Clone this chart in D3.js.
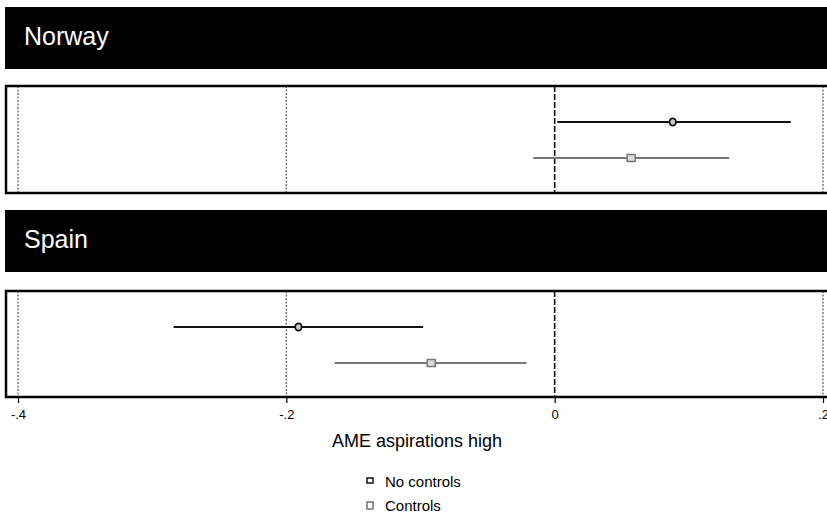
<!DOCTYPE html>
<html><head><meta charset="utf-8">
<script src="https://cdn.jsdelivr.net/npm/d3@7"></script>
<style>body{margin:0;background:#fff}svg{display:block}</style>
</head><body>
<script>
const countries = ["Norway", "Spain"];
const seriesNames = ["No controls", "Controls"];
// estimates and confidence intervals [country][series]
const estimates = [[0.088, 0.057], [-0.191, -0.092]];
const lower = [[0.002, -0.016], [-0.284, -0.164]];
const upper = [[0.176, 0.130], [-0.098, -0.021]];
const tickValues = [-0.4, -0.2, 0, 0.2];
const tickLabels = ["-.4", "-.2", "0", ".2"];
const xTitle = "AME aspirations high";

const W = 827, H = 515;
const svg = d3.select("body").append("svg").attr("width", W).attr("height", H);
const x = d3.scaleLinear().domain([-0.4, 0.2]).range([18, 823]);
const colors = ["#111", "#777"];

const panels = [
  {hTop: 7, hBot: 69, pTop: 86, pBot: 193},
  {hTop: 210, hBot: 272, pTop: 291, pBot: 397}
];

countries.forEach((c, i) => {
  const p = panels[i];
  const g = svg.append("g");
  g.append("rect").attr("x", 5).attr("y", p.hTop).attr("width", 840).attr("height", p.hBot - p.hTop).attr("fill", "#000");
  g.append("text").attr("x", 24).attr("y", p.hTop + 38).attr("fill", "#fff")
    .attr("font-family", "Liberation Sans, Arial, sans-serif").attr("font-size", 25).text(c);
  // grid lines
  tickValues.forEach(t => {
    g.append("line").attr("x1", x(t)).attr("x2", x(t)).attr("y1", p.pTop).attr("y2", p.pBot)
      .attr("stroke", t === 0 ? "#111" : "#666").attr("stroke-width", t === 0 ? 1.6 : 1.3)
      .attr("stroke-dasharray", t === 0 ? "6,2" : "2,1.5");
  });
  // frame
  g.append("rect").attr("x", 6).attr("y", p.pTop).attr("width", 840).attr("height", p.pBot - p.pTop)
    .attr("fill", "none").attr("stroke", "#000").attr("stroke-width", 2.5);
  const yPos = d3.scalePoint().domain(seriesNames).range([p.pTop + 36, p.pTop + 72]);
  seriesNames.forEach((s, j) => {
    const yy = yPos(s);
    g.append("line").attr("x1", x(lower[i][j])).attr("x2", x(upper[i][j])).attr("y1", yy).attr("y2", yy)
      .attr("stroke", colors[j]).attr("stroke-width", j === 0 ? 2 : 1.8);
    if (j === 0) {
      g.append("ellipse").attr("cx", x(estimates[i][j])).attr("cy", yy).attr("rx", 3.2).attr("ry", 3.6)
        .attr("fill", "#ccc").attr("stroke", "#111").attr("stroke-width", 1.8);
    } else {
      g.append("rect").attr("x", x(estimates[i][j]) - 4).attr("y", yy - 3.5).attr("width", 8).attr("height", 7)
        .attr("fill", "#ddd").attr("stroke", "#777").attr("stroke-width", 1.5);
    }
  });
});

// x axis
const axisG = svg.append("g").attr("transform", `translate(0,${panels[1].pBot})`)
  .call(d3.axisBottom(x).tickValues(tickValues).tickFormat((d, i) => tickLabels[i]).tickSize(6).tickPadding(7));
axisG.select(".domain").remove();
axisG.selectAll(".tick line").attr("stroke", "#000").attr("stroke-width", 1.2);
axisG.selectAll(".tick text").attr("font-family", "Liberation Sans, Arial, sans-serif").attr("font-size", 13).attr("fill", "#000");

svg.append("text").attr("x", 417).attr("y", 447).attr("text-anchor", "middle")
  .attr("font-family", "Liberation Sans, Arial, sans-serif").attr("font-size", 18).text(xTitle);

// legend
const legendY = d3.scalePoint().domain(seriesNames).range([481, 505]);
seriesNames.forEach((s, j) => {
  const yy = legendY(s);
  svg.append("rect").attr("x", 367).attr("y", yy - 3).attr("width", 6).attr("height", j === 0 ? 5 : 7)
    .attr("fill", "#fff").attr("stroke", colors[j]).attr("stroke-width", 1.5);
  svg.append("text").attr("x", 385).attr("y", yy + 6).attr("font-family", "Liberation Sans, Arial, sans-serif")
    .attr("font-size", 15).attr("fill", "#000").text(s);
});
</script>
</body></html>
